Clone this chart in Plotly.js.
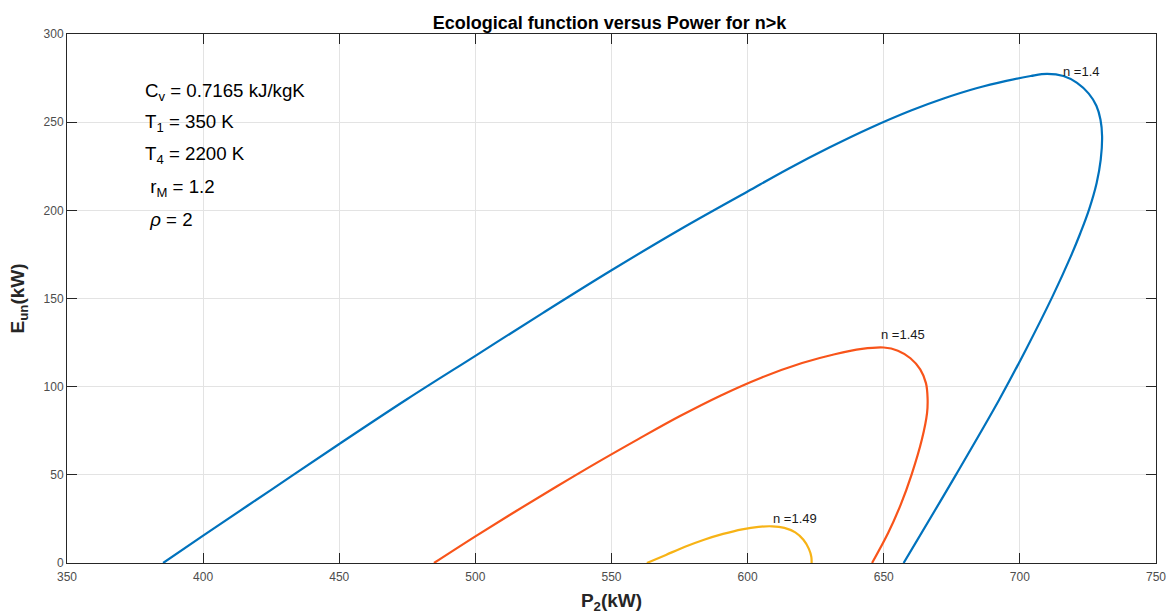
<!DOCTYPE html>
<html>
<head>
<meta charset="utf-8">
<script src="https://cdn.plot.ly/plotly-3.0.1.min.js"></script>
<style>html,body{margin:0;padding:0;background:#fff}#chart{width:1170px;height:614px}</style>
</head>
<body>
<div id="chart"></div>
<script>
// n = 1.4
const p_n140 = [385.3, 400, 425, 450, 475, 500, 525, 550, 575, 600, 615, 630, 645, 660, 672, 684, 695, 704, 710, 716, 721, 725.3, 728.1, 729.6, 730.2, 729.7, 728.2, 725.4, 722.2, 718.7, 712.0, 702.2, 692.4, 676.5, 657.3];
const e_n140 = [0, 15.5, 41.5, 67.5, 93, 117.5, 142, 166, 189, 210.7, 223.6, 235.6, 246.7, 256.6, 263.4, 269.2, 273.4, 276.2, 277.4, 276.2, 272.3, 266.2, 259.3, 251.5, 242, 228.7, 215.5, 200.4, 187, 173.9, 151.2, 121, 92.6, 50, 0];
// n = 1.45
const p_n145 = [484.8, 500, 515, 530, 545, 560, 575, 590, 605, 620, 632, 642, 650, 655.2, 659.8, 663.4, 665.5, 666.1, 665.9, 664.0, 660.2, 656.2, 651.6, 645.7];
const e_n145 = [0, 15.1, 29.5, 43.5, 57.2, 70.4, 83.2, 94.9, 105.1, 113.4, 118.4, 121.4, 122.2, 120.4, 116.1, 109.8, 102, 93.5, 85, 70, 50, 33, 17, 0];
// n = 1.49
const p_n149 = [563, 570, 577, 584, 591, 598, 604, 609, 613.5, 617.5, 620.5, 622.5, 623.4, 623.5];
const e_n149 = [0, 4.6, 9.2, 13.2, 16.5, 19.1, 20.5, 20.8, 19.9, 17.4, 13.2, 8, 3.5, 0];

const curveLabels = ["n =1.4", "n =1.45", "n =1.49"];
const labelX = [715.5, 648.6, 608.8];
const labelY = [278.6, 129.5, 25.5];

const paramText = ["C<sub>v</sub> = 0.7165 kJ/kgK", "T<sub>1</sub> = 350 K", "T<sub>4</sub> = 2200 K", " r<sub>M</sub> = 1.2", " <i>ρ</i> = 2"];
const paramY = [267.2, 249.3, 231.4, 212.7, 194.8];

const colors = ["#0072BD", "#F8541A", "#F7B316"];
const xs = [p_n140, p_n145, p_n149];
const ys = [e_n140, e_n145, e_n149];

const FONT = "Arial, Liberation Sans, sans-serif";

const traces = xs.map((x, i) => ({
  x: x, y: ys[i], type: "scatter", mode: "lines",
  line: {color: colors[i], width: 2.2, shape: "spline", smoothing: 1.0},
  showlegend: false, hoverinfo: "skip"
}));

const annotations = [];
curveLabels.forEach((t, i) => annotations.push({
  x: labelX[i], y: labelY[i], xref: "x", yref: "y", text: t, showarrow: false, borderpad: 0,
  xanchor: "left", yanchor: "middle", font: {family: FONT, size: 13, color: "#1a1a1a"}
}));
paramText.forEach((t, i) => annotations.push({
  x: 378.3, y: paramY[i], xref: "x", yref: "y", text: t, showarrow: false, borderpad: 0,
  xanchor: "left", yanchor: "middle", font: {family: FONT, size: 18.7, color: "#000"}
}));

const axisCommon = {
  showline: true, linecolor: "#262626", linewidth: 1, mirror: "ticks",
  ticks: "inside", ticklen: 10, tickcolor: "#262626", tickwidth: 1,
  showgrid: true, gridcolor: "#e3e3e3", gridwidth: 1, zeroline: false,
  tickfont: {family: FONT, size: 12, color: "#4d4d4d"}
};

const layout = {
  width: 1170, height: 614,
  margin: {l: 67, r: 14, t: 34, b: 51},
  paper_bgcolor: "#fff", plot_bgcolor: "#fff",
  title: {text: "<b>Ecological function versus Power for n>k</b>", x: 0.521, xanchor: "center", y: 0.963, yanchor: "middle",
    font: {family: FONT, size: 18, color: "#000"}},
  xaxis: Object.assign({}, axisCommon, {range: [350, 750], tickvals: [350,400,450,500,550,600,650,700,750], ticklabelstandoff: 3,
    title: {text: "<b>P<sub>2</sub>(kW)</b>", standoff: 11, font: {family: FONT, size: 19, color: "#262626"}}}),
  yaxis: Object.assign({}, axisCommon, {range: [0, 300], tickvals: [0,50,100,150,200,250,300],
    title: {text: "<b>E<sub>un</sub>(kW)</b>", standoff: 13, font: {family: FONT, size: 19, color: "#262626"}}}),
  annotations: annotations
};

Plotly.newPlot("chart", traces, layout, {displayModeBar: false, staticPlot: true});
</script>
</body>
</html>
